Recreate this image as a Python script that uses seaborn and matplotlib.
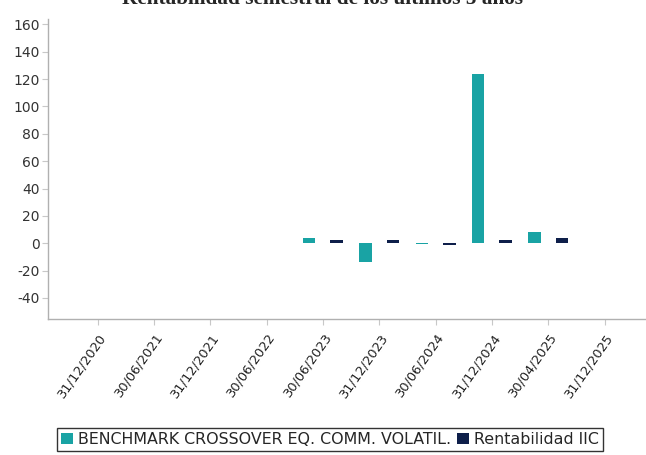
import numpy as np
import pandas as pd
import matplotlib
matplotlib.use("Agg")
import matplotlib.pyplot as plt
import matplotlib.transforms as mtransforms
import seaborn as sns

# ---- data ----
categories = ["31/12/2020", "30/06/2021", "31/12/2021", "30/06/2022", "30/06/2023",
              "31/12/2023", "30/06/2024", "31/12/2024", "30/04/2025", "31/12/2025"]
series_names = ["BENCHMARK CROSSOVER EQ. COMM. VOLATIL.", "Rentabilidad IIC"]
benchmark_values = [np.nan, np.nan, np.nan, np.nan, 3.6, -13.5, -0.4, 124.0, 8.0, np.nan]
fund_values = [np.nan, np.nan, np.nan, np.nan, 2.0, 2.2, -1.0, 2.2, 4.0, np.nan]
y_ticks = [-40, -20, 0, 20, 40, 60, 80, 100, 120, 140, 160]
title_text = "Rentabilidad semestral de los últimos 5 años"
colors = ["#19A3A4", "#0E1F4A"]

df = pd.DataFrame({
    "fecha": categories * 2,
    "serie": [series_names[0]] * len(categories) + [series_names[1]] * len(categories),
    "valor": benchmark_values + fund_values,
})

sns.set_theme(style="white")
plt.rcParams["font.family"] = ["DejaVu Sans"]
plt.rcParams["axes.unicode_minus"] = False

W, H = 646, 455
fig = plt.figure(figsize=(W / 100, H / 100), dpi=100)
ax = fig.add_axes([48 / W, 136 / H, (662 - 48) / W, (319 - 19.3) / H])

sns.barplot(data=df, x="fecha", y="valor", hue="serie", order=categories,
            hue_order=series_names, palette=colors, width=0.98, gap=0.55,
            errorbar=None, ax=ax, linewidth=0, saturation=1)

ax.set_xlim(-0.88, 10.02)
ax.set_ylim(-55.4, 163.7)
ax.set_yticks(y_ticks)
ax.set_xlabel("")
ax.set_ylabel("")

for side in ["top", "right"]:
    ax.spines[side].set_visible(False)
for side in ["left", "bottom"]:
    ax.spines[side].set_color("#b0b0b0")
    ax.spines[side].set_linewidth(1.0)

ax.tick_params(axis="both", which="major", direction="out", length=4, width=0.8,
               color="#c8c8c8", bottom=True, left=True)
ax.tick_params(axis="y", labelsize=10, labelcolor="#333333", pad=2)
ax.tick_params(axis="x", labelsize=9.4, labelcolor="#222222", pad=5)

offset = mtransforms.ScaledTranslation(11 / 100, 0, fig.dpi_scale_trans)
for lab in ax.get_xticklabels():
    lab.set_rotation(55)
    lab.set_ha("right")
    lab.set_va("top")
    lab.set_transform(lab.get_transform() + offset)

handles, labels = ax.get_legend_handles_labels()
if ax.get_legend() is not None:
    ax.get_legend().remove()
leg = fig.legend(handles, labels, loc="upper left", bbox_to_anchor=(57 / W, 1 - 428 / H),
                 ncol=2, frameon=True, fancybox=False, fontsize=11.4,
                 handlelength=0.75, handleheight=0.75, handletextpad=0.3,
                 columnspacing=0.4, borderpad=0.25, borderaxespad=0)
leg.get_frame().set_edgecolor("black")
leg.get_frame().set_linewidth(1.0)

fig.text(0.5, 1 - 3.5 / H, title_text, ha="center", va="baseline",
         fontsize=15.3, fontweight="bold", family=["Liberation Serif"])

fig.savefig("out.png", dpi=100)
